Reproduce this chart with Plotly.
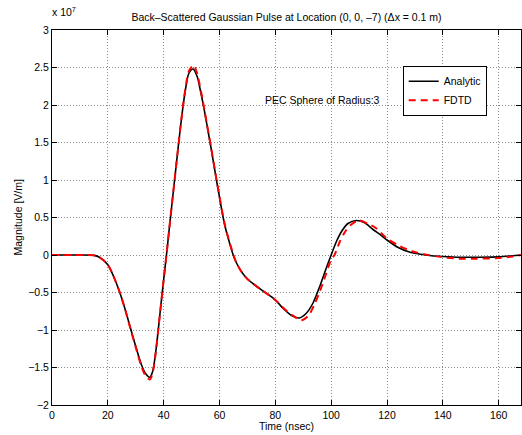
import plotly.graph_objects as go

# Time axis (nsec) and magnitudes in units of 1e7 V/m
t_analytic = [0, 10, 15, 17, 20, 22, 24, 26, 28, 30, 32, 33.5, 35, 36, 37, 38, 39, 40, 41, 42,
              43, 44, 45, 46, 47, 48, 49, 50.5, 52, 53, 54, 55, 56, 57, 58, 59, 60, 61, 62, 63,
              64, 65, 66, 68, 70, 73, 76, 80, 83, 86, 88.5, 91, 93.5, 96, 98, 100, 102, 104, 106,
              109, 112, 115, 118, 120, 124, 128, 132, 136, 140, 146, 152, 160, 165, 168]
analytic_e7 = [0, 0, -0.005, -0.03, -0.13, -0.28, -0.47, -0.70, -0.96, -1.22, -1.46, -1.58, -1.63,
               -1.56, -1.34, -1.02, -0.67, -0.33, 0.0, 0.35, 0.69, 1.03, 1.37, 1.70, 2.00, 2.25,
               2.42, 2.48, 2.38, 2.22, 2.04, 1.84, 1.63, 1.42, 1.20, 0.98, 0.77, 0.56, 0.38, 0.24,
               0.11, -0.01, -0.10, -0.23, -0.32, -0.41, -0.49, -0.60, -0.72, -0.81, -0.84, -0.78,
               -0.64, -0.41, -0.20, 0.0, 0.19, 0.33, 0.42, 0.46, 0.43, 0.34, 0.26, 0.20, 0.10,
               0.04, 0.01, -0.01, -0.02, -0.03, -0.03, -0.025, -0.01, 0]

t_fdtd = [0, 10, 15, 17, 20, 22, 24, 26, 28, 30, 32, 33.5, 35, 36, 37, 38, 39, 40, 41, 42,
          43, 44, 45, 46, 47, 48, 49, 50.7, 52, 53, 54, 55, 56, 57, 58, 59, 60, 61, 62, 63,
          64, 65, 66, 68, 70, 73, 76, 80, 83, 86, 89.3, 92, 94, 96, 98, 100, 101.2, 103, 105,
          107, 110, 113, 116, 120, 124.5, 129, 134, 140, 146, 152, 160, 165, 168]
fdtd_e7 = [0, 0, -0.005, -0.03, -0.13, -0.28, -0.47, -0.70, -0.97, -1.23, -1.48, -1.61, -1.66,
           -1.58, -1.35, -1.02, -0.67, -0.33, 0.0, 0.35, 0.69, 1.03, 1.37, 1.70, 2.01, 2.27,
           2.45, 2.53, 2.42, 2.25, 2.06, 1.85, 1.64, 1.43, 1.21, 0.99, 0.78, 0.57, 0.39, 0.25,
           0.12, 0.0, -0.10, -0.23, -0.32, -0.41, -0.49, -0.60, -0.71, -0.80, -0.87, -0.80,
           -0.66, -0.48, -0.27, -0.06, 0.0, 0.17, 0.31, 0.40, 0.46, 0.42, 0.36, 0.22, 0.12,
           0.05, 0.005, -0.03, -0.05, -0.05, -0.04, -0.02, 0]

x_ticks = [0, 20, 40, 60, 80, 100, 120, 140, 160]
title_text = "Back–Scattered Gaussian Pulse at Location (0, 0, –7) (Δx = 0.1 m)"
note_text = "PEC Sphere of Radius:3"

FONT = "Liberation Sans, Arial, Helvetica, sans-serif"
FS = 10.5

fig = go.Figure()
fig.add_trace(go.Scatter(x=t_analytic, y=analytic_e7, mode="lines", name="Analytic",
                         line=dict(color="black", width=1.6, shape="spline", smoothing=0.8)))
fig.add_trace(go.Scatter(x=t_fdtd, y=fdtd_e7, mode="lines", name="FDTD",
                         line=dict(color="#ff0000", width=2, dash="7px,5px", shape="spline", smoothing=0.8)))

L, R, T, B = 52, 1, 30, 30
W, H = 522, 435
pw, ph = W - L - R, H - T - B

axis_common = dict(showline=True, linecolor="black", linewidth=1, mirror="ticks",
                   ticks="inside", ticklen=5, tickcolor="black", tickwidth=1,
                   showgrid=True, gridcolor="#8a8a8a", griddash="1px,2px", gridwidth=1,
                   zeroline=False, tickfont=dict(family=FONT, size=FS, color="black"))

fig.update_layout(
    width=W, height=H, margin=dict(l=L, r=R, t=T, b=B),
    paper_bgcolor="white", plot_bgcolor="white",
    font=dict(family=FONT, size=FS, color="black"),
    xaxis=dict(range=[0, 168], tickvals=x_ticks, **axis_common),
    yaxis=dict(range=[-2, 3], dtick=0.5, tick0=0, **axis_common),
    showlegend=True,
    legend=dict(x=(402.7 - L) / pw, y=(H - B - 65.7) / ph, xanchor="left", yanchor="top",
                bgcolor="white", bordercolor="black", borderwidth=1,
                font=dict(family=FONT, size=FS, color="black"), tracegroupgap=0),
    title=dict(text=title_text, x=0.5, xref="paper", y=1 - 17 / H, yref="container",
               xanchor="center", yanchor="middle", font=dict(family=FONT, size=FS, color="black")),
)

fig.add_annotation(text=note_text, x=75.5, y=2.07, xref="x", yref="y", xanchor="left",
                   yanchor="middle", showarrow=False, font=dict(family=FONT, size=FS, color="black"))
fig.add_annotation(text="x 10<sup>7</sup>", x=-2 / pw, y=1 + 10 / ph, xref="paper", yref="paper",
                   xanchor="left", yanchor="bottom", showarrow=False,
                   font=dict(family=FONT, size=FS, color="black"))
fig.add_annotation(text="Magnitude [V/m]", x=-(L - 17) / pw, y=0.5, xref="paper", yref="paper",
                   textangle=-90, xanchor="center", yanchor="middle", showarrow=False,
                   font=dict(family=FONT, size=FS, color="black"))
fig.add_annotation(text="Time (nsec)", x=0.5, y=-(426 - (H - B)) / ph, xref="paper", yref="paper",
                   xanchor="center", yanchor="middle", showarrow=False,
                   font=dict(family=FONT, size=FS, color="black"))

fig.write_html("out.html", config={"displayModeBar": False},
               post_script="document.body.style.margin='0px';document.body.style.padding='0px';")
